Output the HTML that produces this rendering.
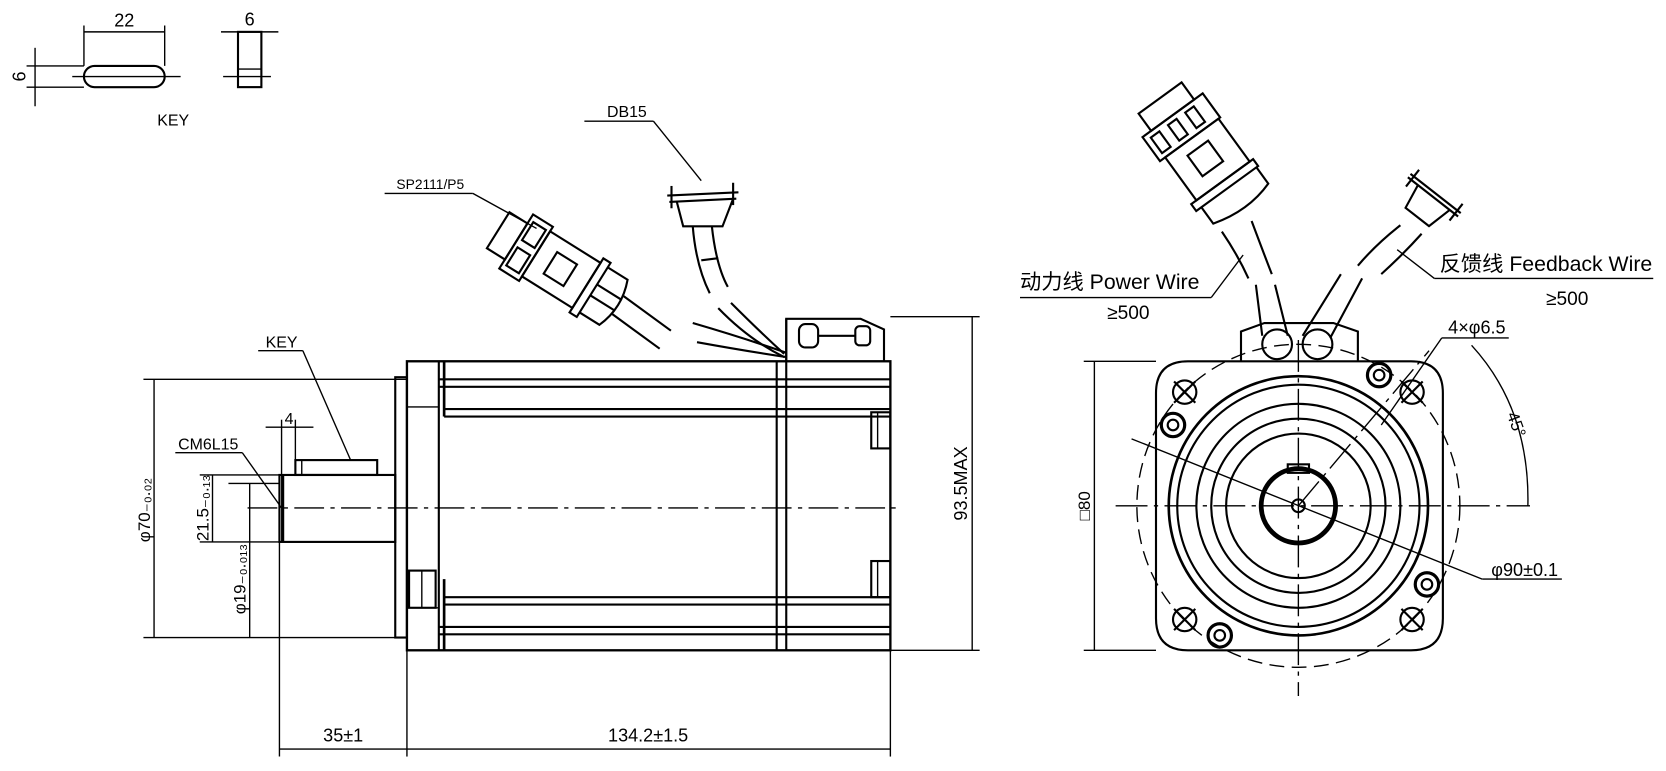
<!DOCTYPE html>
<html><head><meta charset="utf-8"><style>
html,body{margin:0;padding:0;background:#fff;width:1666px;height:771px;overflow:hidden}
svg{display:block}
text{font-family:"Liberation Sans","Noto Sans CJK SC",sans-serif;fill:#000}
</style></head><body>
<svg width="1666" height="771" viewBox="0 0 1568 725.6" preserveAspectRatio="none" xmlns="http://www.w3.org/2000/svg">
<g fill="none" stroke="#000" stroke-width="1.3">
<!-- KEY top view -->
<rect x="79" y="62" width="76" height="20" rx="10" stroke-width="2"/>
<line x1="79" y1="24" x2="79" y2="62"/><line x1="155" y1="24" x2="155" y2="62"/>
<line x1="79" y1="30" x2="155" y2="30"/>
<line x1="25" y1="62" x2="79" y2="62"/><line x1="25" y1="82" x2="79" y2="82"/>
<line x1="33" y1="45" x2="33" y2="100"/>
<line x1="68" y1="72" x2="170" y2="72"/>
<rect x="224" y="30" width="22" height="52" stroke-width="2"/>
<line x1="224" y1="65" x2="246" y2="65"/>
<line x1="208" y1="30" x2="262" y2="30"/>
<line x1="210" y1="72" x2="255" y2="72"/>
<!-- motor body -->
<rect x="372" y="355" width="11" height="245" stroke-width="2"/>
<rect x="383" y="340" width="455" height="272" stroke-width="2.2"/>
<line x1="413" y1="340" x2="413" y2="612" stroke-width="2"/>
<line x1="418" y1="340" x2="418" y2="392" stroke-width="2.5"/>
<line x1="418" y1="545" x2="418" y2="612" stroke-width="2.5"/>
<line x1="383" y1="383" x2="413" y2="383"/>
<line x1="383" y1="572" x2="413" y2="572"/>
<rect x="385" y="537" width="25" height="35" stroke-width="2"/>
<line x1="397" y1="537" x2="397" y2="572"/>
<line x1="413" y1="357" x2="838" y2="357" stroke-width="2"/>
<line x1="413" y1="364" x2="838" y2="364" stroke-width="2"/>
<line x1="418" y1="385" x2="838" y2="385" stroke-width="2"/>
<line x1="418" y1="392" x2="838" y2="392" stroke-width="2"/>
<line x1="418" y1="562" x2="838" y2="562" stroke-width="2"/>
<line x1="418" y1="569" x2="838" y2="569" stroke-width="2"/>
<line x1="413" y1="590" x2="838" y2="590" stroke-width="2"/>
<line x1="413" y1="597" x2="838" y2="597" stroke-width="2"/>
<line x1="731" y1="340" x2="731" y2="612" stroke-width="2"/>
<line x1="740" y1="300" x2="740" y2="612" stroke-width="2"/>
<rect x="820" y="388" width="18" height="34" stroke-width="2"/><line x1="826" y1="388" x2="826" y2="422"/>
<rect x="820" y="528" width="18" height="34" stroke-width="2"/><line x1="826" y1="528" x2="826" y2="562"/>
<!-- junction box -->
<path d="M740 340 V300 H810 L832 310 V340" stroke-width="2"/>
<rect x="752" y="305" width="18" height="22" rx="6" stroke-width="2"/>
<rect x="805" y="307" width="14" height="18" rx="4" stroke-width="2"/>
<line x1="770" y1="316" x2="805" y2="316" stroke-width="2"/>
<!-- shaft -->
<rect x="263" y="447" width="109" height="63" stroke-width="2"/>
<line x1="266" y1="447" x2="266" y2="510" stroke-width="3"/>
<rect x="278" y="433" width="77" height="14" stroke-width="2"/>
<line x1="284" y1="433" x2="284" y2="447"/>
<line x1="233" y1="478" x2="848" y2="478" stroke-dasharray="28,6,4,6"/>
<!-- left dims -->
<line x1="135" y1="357" x2="383" y2="357"/><line x1="135" y1="600" x2="372" y2="600"/>
<line x1="145" y1="357" x2="145" y2="600"/>
<line x1="188" y1="447" x2="263" y2="447"/><line x1="188" y1="510" x2="263" y2="510"/>
<line x1="200" y1="447" x2="200" y2="510"/>
<line x1="215" y1="455" x2="263" y2="455"/>
<line x1="235" y1="455" x2="235" y2="600"/>
<line x1="265" y1="395" x2="265" y2="447"/><line x1="278" y1="395" x2="278" y2="433"/>
<line x1="250" y1="402" x2="295" y2="402"/>
<line x1="243" y1="330" x2="285" y2="330"/><line x1="285" y1="330" x2="330" y2="433"/>
<line x1="165" y1="426" x2="228" y2="426"/><line x1="228" y1="426" x2="265" y2="478"/>
<!-- bottom dims -->
<line x1="263" y1="510" x2="263" y2="712"/><line x1="383" y1="612" x2="383" y2="712"/><line x1="838" y1="612" x2="838" y2="712"/>
<line x1="263" y1="705" x2="838" y2="705"/>
<line x1="838" y1="298" x2="922" y2="298"/><line x1="838" y1="612" x2="922" y2="612"/>
<line x1="915" y1="298" x2="915" y2="612"/>
<!-- SP2111 leader -->
<line x1="362" y1="182" x2="445" y2="182"/><line x1="445" y1="182" x2="505" y2="215"/>
<line x1="550" y1="114" x2="615" y2="114"/><line x1="615" y1="114" x2="660" y2="170"/>
<!-- SP2111 connector -->
<g transform="translate(535,258) rotate(32)" stroke-width="2">
<rect x="-78" y="-20" width="20" height="40"/>
<rect x="-58" y="-30" width="22" height="60"/>
<rect x="-54" y="-24" width="14" height="20"/><rect x="-54" y="4" width="14" height="20"/>
<rect x="-36" y="-25" width="56" height="50"/>
<rect x="-20" y="-12" width="22" height="24"/>
<rect x="20" y="-30" width="8" height="60"/>
<path d="M28 -25 H50 Q60 0 50 25 H28"/>
<line x1="28" y1="-6" x2="55" y2="-6"/><line x1="28" y1="6" x2="55" y2="6"/>
<path d="M55 -10 L110 -6 M55 10 L110 14"/>
</g>
<path d="M652 304 Q700 318 740 332 M656 322 Q700 330 740 336" stroke-width="2"/>
<!-- DB15 -->
<g stroke-width="2">
<path d="M628 184 L695 181 M630 190 L693 187"/>
<line x1="632" y1="175" x2="632" y2="196"/><line x1="690" y1="172" x2="690" y2="193"/>
<path d="M637 190 L643 213 H680 L690 187"/>
<path d="M652 213 Q655 250 668 276 M670 213 Q674 250 685 270"/>
<line x1="660" y1="245" x2="676" y2="243"/>
<path d="M676 290 Q705 320 738 336 M688 285 Q715 312 738 333"/>
</g>
<!-- RIGHT VIEW -->
<path d="M1118 340 H1328 Q1358 340 1358 370 V582 Q1358 612 1328 612 H1118 Q1088 612 1088 582 V370 Q1088 340 1118 340 Z" stroke-width="2"/>
<circle cx="1222" cy="476" r="152" stroke-dasharray="14,7"/>
<circle cx="1222" cy="476" r="122" stroke-width="2.5"/>
<circle cx="1222" cy="476" r="114" stroke-width="2"/>
<circle cx="1222" cy="476" r="96" stroke-width="2"/>
<circle cx="1222" cy="476" r="82" stroke-width="2"/>
<circle cx="1222" cy="476" r="68" stroke-width="2"/>
<circle cx="1222" cy="476" r="35" stroke-width="4.5"/>
<circle cx="1222" cy="476" r="6" stroke-width="2"/>
<rect x="1212" y="437" width="20" height="8" stroke-width="2"/>
<g stroke-width="2">
<circle cx="1115" cy="369" r="11"/><circle cx="1329" cy="369" r="11"/>
<circle cx="1115" cy="583" r="11"/><circle cx="1329" cy="583" r="11"/>
<path d="M1105 359 L1125 379 M1105 379 L1125 359 M1319 359 L1339 379 M1319 379 L1339 359 M1105 573 L1125 593 M1105 593 L1125 573 M1319 573 L1339 593 M1319 593 L1339 573"/>
<circle cx="1104" cy="400" r="11" stroke-width="3"/><circle cx="1104" cy="400" r="5"/>
<circle cx="1298" cy="353" r="11" stroke-width="3"/><circle cx="1298" cy="353" r="5"/>
<circle cx="1343" cy="550" r="11" stroke-width="3"/><circle cx="1343" cy="550" r="5"/>
<circle cx="1148" cy="598" r="11" stroke-width="3"/><circle cx="1148" cy="598" r="5"/>
<path d="M1168 340 V312 L1190 304 H1255 L1278 312 V340"/>
<circle cx="1202" cy="324" r="14"/><circle cx="1240" cy="324" r="14"/>
<path d="M1188 316 L1182 268 M1212 316 L1200 268"/>
<path d="M1226 316 L1262 258 M1252 318 L1282 262"/>
</g>
<line x1="1050" y1="476" x2="1440" y2="476" stroke-dasharray="30,6,4,6"/>
<line x1="1222" y1="320" x2="1222" y2="655" stroke-dasharray="30,6,4,6"/>
<line x1="1065" y1="413" x2="1395" y2="545"/><line x1="1395" y1="545" x2="1470" y2="545"/>
<line x1="1222" y1="476" x2="1345" y2="330" stroke-dasharray="30,6,4,6"/>
<line x1="1300" y1="400" x2="1357" y2="318"/><line x1="1357" y1="318" x2="1420" y2="318"/>
<path d="M1385 325 Q1440 385 1438 476"/>
<line x1="1020" y1="340" x2="1088" y2="340"/><line x1="1020" y1="612" x2="1088" y2="612"/>
<line x1="1030" y1="340" x2="1030" y2="612"/>
<!-- power connector -->
<g transform="translate(1140,150) rotate(-36)" stroke-width="2">
<rect x="-30" y="-75" width="50" height="20"/>
<rect x="-40" y="-55" width="70" height="28"/>
<rect x="-34" y="-50" width="10" height="18"/><rect x="-14" y="-50" width="10" height="18"/><rect x="6" y="-50" width="10" height="18"/>
<rect x="-34" y="-27" width="62" height="50"/>
<rect x="-16" y="-16" width="24" height="24"/>
<rect x="-40" y="23" width="72" height="8"/>
<path d="M-34 31 V50 Q0 60 30 50 V31"/>
</g>
<path d="M1150 218 Q1165 240 1175 262 M1178 208 Q1190 240 1197 258" stroke-width="2"/>
<!-- feedback connector -->
<g transform="translate(1345,190) rotate(38)" stroke-width="2">
<line x1="-30" y1="-10" x2="30" y2="-10"/><line x1="-30" y1="-6" x2="30" y2="-6"/>
<line x1="-26" y1="-18" x2="-26" y2="2"/><line x1="26" y1="-18" x2="26" y2="2"/>
<path d="M-18 -6 L-14 18 H14 L20 -6"/>
</g>
<path d="M1318 212 Q1295 230 1278 250 M1338 220 Q1320 240 1300 258" stroke-width="2"/>
<line x1="1350" y1="262" x2="1556" y2="262"/><line x1="1350" y1="262" x2="1315" y2="235"/>
<line x1="960" y1="280" x2="1140" y2="280"/><line x1="1140" y1="280" x2="1170" y2="240"/>
</g>
<!-- text -->
<g font-size="17">
<text x="117" y="25" text-anchor="middle">22</text>
<text x="235" y="24" text-anchor="middle">6</text>
<text transform="translate(24,72) rotate(-90)" text-anchor="middle">6</text>
<text x="163" y="118" text-anchor="middle" font-size="15">KEY</text>
<text x="265" y="327" text-anchor="middle" font-size="15">KEY</text>
<text x="196" y="423" text-anchor="middle" font-size="15">CM6L15</text>
<text x="272" y="399" text-anchor="middle" font-size="15">4</text>
<text x="405" y="178" text-anchor="middle" font-size="13">SP2111/P5</text>
<text x="590" y="110" text-anchor="middle" font-size="15">DB15</text>
<text transform="translate(141,480) rotate(-90)" text-anchor="middle" font-size="16">φ70₋₀.₀₂</text>
<text transform="translate(196,478) rotate(-90)" text-anchor="middle" font-size="16">21.5₋₀.₁₃</text>
<text transform="translate(231,545) rotate(-90)" text-anchor="middle" font-size="16">φ19₋₀.₀₁₃</text>
<text transform="translate(910,455) rotate(-90)" text-anchor="middle" font-size="17">93.5MAX</text>
<text x="323" y="698" text-anchor="middle">35±1</text>
<text x="610" y="698" text-anchor="middle">134.2±1.5</text>
<text transform="translate(1026,476) rotate(-90)" text-anchor="middle" font-size="16">□80</text>
<text x="1390" y="314" text-anchor="middle">4×φ6.5</text>
<text x="1435" y="542" text-anchor="middle">φ90±0.1</text>
<text transform="translate(1418,390) rotate(70)" font-size="16">45°</text>
<text x="960" y="272" font-size="20">动力线 Power Wire</text>
<text x="1062" y="300" text-anchor="middle" font-size="18">≥500</text>
<text x="1355" y="255" font-size="20">反馈线 Feedback Wire</text>
<text x="1475" y="287" text-anchor="middle" font-size="18">≥500</text>
</g>
</svg>
</body></html>
